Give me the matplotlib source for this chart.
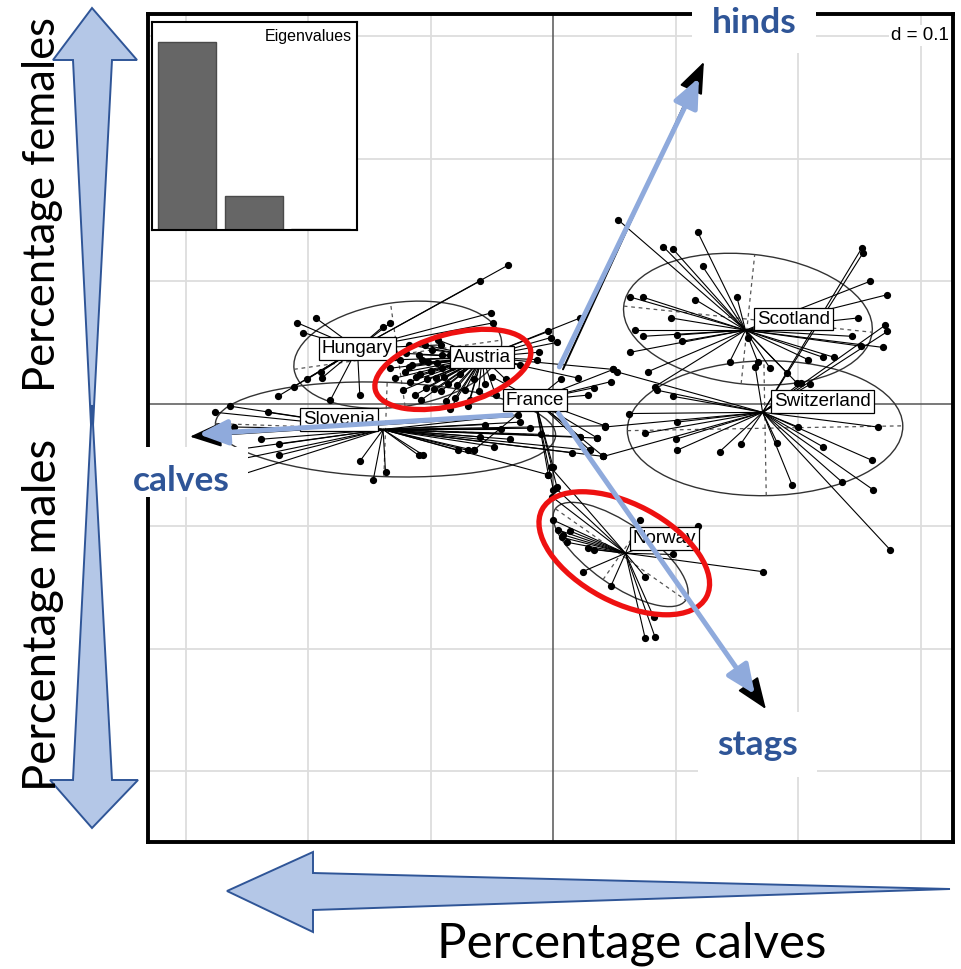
import numpy as np
import matplotlib.pyplot as plt
from matplotlib.patches import Ellipse, Polygon, Rectangle, FancyArrowPatch
from matplotlib.collections import LineCollection

# population scores on the first two discriminant axes, by country
hungary = [(-0.209, 0.066), (-0.194, 0.070), (-0.204, 0.058), (-0.139, 0.063), (-0.133, 0.066),
           (-0.190, 0.026), (-0.189, 0.021), (-0.212, 0.014), (-0.201, 0.020), (-0.225, 0.006),
           (-0.158, 0.007), (-0.182, 0.003), (-0.037, 0.113), (-0.060, 0.100), (-0.051, 0.074),
           (-0.049, 0.066), (-0.092, 0.048)]
austria = [(-0.125, 0.036), (-0.121, 0.026), (-0.117, 0.018), (-0.115, 0.032), (-0.110, 0.040),
           (-0.109, 0.024), (-0.104, 0.013), (-0.102, 0.034), (-0.099, 0.044), (-0.096, 0.021),
           (-0.092, 0.010), (-0.091, 0.029), (-0.086, 0.016), (-0.084, 0.040), (-0.080, 0.005),
           (-0.076, 0.024), (-0.072, 0.011), (-0.068, 0.003), (-0.061, 0.010), (-0.056, 0.016),
           (-0.129, 0.021), (-0.123, 0.011), (-0.113, 0.007), (-0.133, 0.029), (-0.118, 0.048),
           (-0.105, 0.048), (-0.094, 0.052), (-0.047, 0.007), (-0.039, 0.020), (-0.027, 0.032),
           (-0.013, 0.036), (-0.004, 0.059), (-0.002, 0.054), (0.003, 0.050), (-0.012, 0.042),
           (0.049, 0.028), (0.020, 0.021), (0.022, 0.070), (-0.118, 0.030), (-0.112, 0.022),
           (-0.107, 0.036), (-0.100, 0.027), (-0.095, 0.033), (-0.089, 0.022), (-0.083, 0.030),
           (-0.079, 0.015), (-0.097, 0.012), (-0.108, 0.003), (-0.088, 0.002), (-0.074, 0.032),
           (-0.065, 0.020), (-0.120, 0.041), (-0.103, 0.020), (-0.091, 0.040), (-0.070, -0.002),
           (-0.084, -0.004)]
slovenia = [(-0.276, -0.007), (-0.264, -0.002), (-0.261, -0.019), (-0.239, -0.029), (-0.224, -0.033),
            (-0.224, -0.042), (-0.233, -0.007), (-0.158, -0.047), (-0.147, -0.062), (-0.137, -0.056),
            (-0.110, -0.042), (-0.106, -0.042), (-0.078, -0.038), (-0.070, -0.038), (-0.027, -0.015),
            (-0.029, -0.009), (-0.056, -0.017), (-0.065, -0.038), (-0.004, -0.058), (0.042, -0.018),
            (0.036, -0.028), (0.022, -0.027), (0.030, -0.038), (0.041, -0.043), (-0.288, -0.052),
            (-0.280, -0.066), (-0.292, -0.042), (-0.043, -0.021), (-0.035, -0.029), (-0.060, -0.027),
            (-0.019, -0.020), (-0.010, -0.025), (0.015, -0.040), (-0.048, -0.035)]
france = [(0.049, 0.028), (0.033, 0.013), (0.028, 0.007), (0.047, 0.018), (0.042, -0.018),
          (0.036, -0.028), (0.022, -0.027), (0.030, -0.038), (0.041, -0.043), (0.000, -0.070),
          (0.003, -0.068), (0.006, 0.020), (-0.050, 0.022), (-0.065, -0.038), (-0.004, -0.058),
          (0.000, -0.052)]
scotland = [(0.053, 0.150), (0.118, 0.140), (0.090, 0.128), (0.098, 0.126), (0.122, 0.112),
            (0.063, 0.087), (0.073, 0.087), (0.116, 0.085), (0.150, 0.087), (0.096, 0.070),
            (0.067, 0.060), (0.073, 0.055), (0.101, 0.056), (0.105, 0.051), (0.063, 0.042),
            (0.077, 0.026), (0.083, 0.014), (0.259, 0.100), (0.273, 0.089), (0.249, 0.070),
            (0.244, 0.055), (0.251, 0.047), (0.269, 0.046), (0.229, 0.038), (0.220, 0.038),
            (0.208, 0.036), (0.191, 0.025), (0.177, 0.029), (0.167, 0.034), (0.199, 0.017),
            (0.144, 0.034), (0.159, 0.054)]
switzerland = [(0.085, 0.011), (0.098, 0.006), (0.042, -0.019), (0.075, -0.024), (0.041, -0.043),
               (0.101, -0.015), (0.100, -0.029), (0.101, -0.038), (0.136, -0.039), (0.153, -0.033),
               (0.183, -0.032), (0.195, -0.066), (0.200, -0.019), (0.220, -0.035), (0.236, -0.064),
               (0.260, -0.046), (0.261, -0.070), (0.265, -0.019), (0.275, -0.119), (0.252, 0.127),
               (0.253, 0.123), (0.271, 0.064), (0.273, 0.059), (0.052, 0.026), (0.210, 0.016),
               (0.202, 0.017), (0.165, 0.030), (0.062, -0.008)]
norway = [(-0.002, -0.052), (0.002, -0.069), (-0.001, -0.076), (0.000, -0.095), (0.004, -0.103),
          (0.007, -0.109), (0.011, -0.113), (0.014, -0.104), (0.008, -0.107), (0.028, -0.118),
          (0.033, -0.119), (0.024, -0.137), (0.047, -0.149), (0.075, -0.141), (0.082, -0.174),
          (0.075, -0.191), (0.083, -0.190), (0.171, -0.137), (0.118, -0.100), (0.098, -0.123),
          (0.071, -0.095)]

countries = ['Hungary', 'Austria', 'Slovenia', 'France', 'Scotland', 'Switzerland', 'Norway']
scores = [hungary, austria, slovenia, france, scotland, switzerland, norway]
centres = [(-0.160, 0.045), (-0.058, 0.038), (-0.139, -0.021), (-0.015, 0.003),
           (0.157, 0.060), (0.171, -0.007), (0.059, -0.122)]
label_xy = [(-0.160, 0.045), (-0.058, 0.038), (-0.175, -0.013), (-0.015, 0.003),
            (0.196, 0.069), (0.220, 0.002), (0.091, -0.110)]

# inertia ellipses (centre, width, height, angle)
ell_xy = [(-0.127, 0.040), None, (-0.137, -0.021), None, (0.159, 0.069), (0.173, -0.020), (0.055, -0.123)]
ell_w = [0.171, 0, 0.278, 0, 0.204, 0.225, 0.130]
ell_h = [0.085, 0, 0.077, 0, 0.106, 0.110, 0.050]
ell_ang = [8, 0, -2, 0, -6, 1, -35]

eigenvalues = [1.0, 0.18, 0.005]

# variable arrows
variables = ['hinds', 'calves', 'stags']
var_from = [(0.007, 0.026), (-0.031, -0.010), (0.004, -0.008)]
var_to = [(0.124, 0.281), (-0.299, -0.027), (0.175, -0.251)]
hl_from = [(0.004, 0.028), (-0.032, -0.009), (0.003, -0.006)]
hl_to = [(0.120, 0.268), (-0.292, -0.025), (0.166, -0.239)]

red_xy = [(-0.082, 0.028), (0.058, -0.122)]
red_w = [0.131, 0.152]
red_h = [0.058, 0.080]
red_ang = [15, -28]

fig = plt.figure(figsize=(9.61, 9.69), dpi=100)
ax = fig.add_axes([148 / 961, 1 - 842 / 969, 805 / 961, 828 / 969])
ax.set_xlim(-0.331, 0.3265)
ax.set_ylim(-0.3576, 0.318)
ax.set_xticks([-0.3, -0.2, -0.1, 0.1, 0.2, 0.3])
ax.set_yticks([-0.3, -0.2, -0.1, 0.1, 0.2, 0.3])
ax.grid(color='#dddddd', lw=1.3)
ax.set_axisbelow(True)
ax.tick_params(length=0, labelbottom=False, labelleft=False)
for s in ax.spines.values():
    s.set_linewidth(2.8)
ax.axhline(0, color='#555555', lw=1.1, zorder=1)
ax.axvline(0, color='#555555', lw=1.1, zorder=1)

# ellipses with dashed axes
for xy, w, h, a in zip(ell_xy, ell_w, ell_h, ell_ang):
    if xy is None:
        continue
    ax.add_patch(Ellipse(xy, w, h, angle=a, fill=False, ec='#333333', lw=1.0, zorder=2))
    t = np.radians(a)
    for half, (dx, dy) in [(w / 2, (np.cos(t), np.sin(t))), (h / 2, (-np.sin(t), np.cos(t)))]:
        ax.plot([xy[0] - half * dx, xy[0] + half * dx], [xy[1] - half * dy, xy[1] + half * dy],
                ls=(0, (3, 3)), color='#555555', lw=0.9, zorder=2)

# stars
for c, pts in zip(centres, scores):
    segs = [[c, p] for p in pts]
    ax.add_collection(LineCollection(segs, colors='black', linewidths=0.8, zorder=3))
    pts = np.array(pts)
    ax.plot(pts[:, 0], pts[:, 1], 'o', color='black', ms=4.2, zorder=4)

# variable arrows from the original biplot
for p0, p1 in zip(var_from, var_to):
    ax.add_patch(FancyArrowPatch(p0, p1, arrowstyle='-|>,head_length=0.9,head_width=0.35',
                                 mutation_scale=22, color='black', lw=1.4, zorder=5))

for name, xy in zip(countries, label_xy):
    ax.text(xy[0], xy[1], name, ha='center', va='center', fontsize=13.5, family='Liberation Sans',
            zorder=6, bbox=dict(boxstyle='square,pad=0.15', fc='white', ec='black', lw=0.9))

ax.text(0.995, 0.984, 'd = 0.1', transform=ax.transAxes, ha='right', va='top', fontsize=13.5,
        family='Liberation Sans', zorder=6, bbox=dict(boxstyle='square,pad=0.1', fc='white', ec='none'))

# highlighted groups
for xy, w, h, a in zip(red_xy, red_w, red_h, red_ang):
    ax.add_patch(Ellipse(xy, w, h, angle=a, fill=False, ec='#ee1111', lw=3.8, zorder=8))

for p0, p1 in zip(hl_from, hl_to):
    ax.add_patch(FancyArrowPatch(p0, p1, arrowstyle='-|>,head_length=0.8,head_width=0.35',
                                 mutation_scale=22, color='#8faadc', lw=3.6, zorder=9))

# eigenvalue inset
ins = fig.add_axes([152 / 961, 1 - 230 / 969, 205 / 961, 208 / 969])
ins.bar(range(len(eigenvalues)), eigenvalues, width=0.87, color='#666666', edgecolor='#4a4a4a')
ins.set_xlim(-0.525, 2.547)
ins.set_ylim(0, eigenvalues[0] * 1.107)
ins.set_xticks([])
ins.set_yticks([])
for s in ins.spines.values():
    s.set_linewidth(1.5)
ins.text(0.975, 0.965, 'Eigenvalues', transform=ins.transAxes, ha='right', va='top', fontsize=11.5,
         family='Liberation Sans')

# annotation layer in pixel units
ov = fig.add_axes([0, 0, 1, 1], zorder=10)
ov.set_xlim(0, 961)
ov.set_ylim(969, 0)
ov.axis('off')
ov.patch.set_alpha(0)

fill, edge = '#b4c7e7', '#2f5597'
up = [(92, 8), (137, 60), (112, 60), (92, 445), (73, 60), (53, 60)]
down = [(92, 405), (112, 780), (138, 780), (92, 828), (50, 780), (73, 780)]
left = [(227, 891), (313, 852), (313, 873), (950, 889), (313, 910), (313, 932)]
for poly in (up, down, left):
    ov.add_patch(Polygon(poly, closed=True, fc=fill, ec=edge, lw=1.4, joinstyle='miter'))

ov.text(43, 204, 'Percentage females', rotation=90, ha='center', va='center', fontsize=31.4, family='Lato')
ov.text(43, 615, 'Percentage males', rotation=90, ha='center', va='center', fontsize=32.8, family='Lato')
ov.text(632, 944, 'Percentage calves', ha='center', va='center', fontsize=35.5, family='Lato')

blue = '#2f5597'
boxes = [(692, 0, 124, 53), (118, 447, 130, 50), (698, 712, 119, 65)]
text_xy = [(754, 23), (181, 481), (758, 745)]
for (x, y, w, h), (tx, ty), name in zip(boxes, text_xy, variables):
    ov.add_patch(Rectangle((x, y), w, h, fc='white', ec='none'))
    ov.text(tx, ty, name, ha='center', va='center', fontsize=25.5, fontweight='bold', color=blue, family='Lato')

fig.savefig('out.png', dpi=100)
